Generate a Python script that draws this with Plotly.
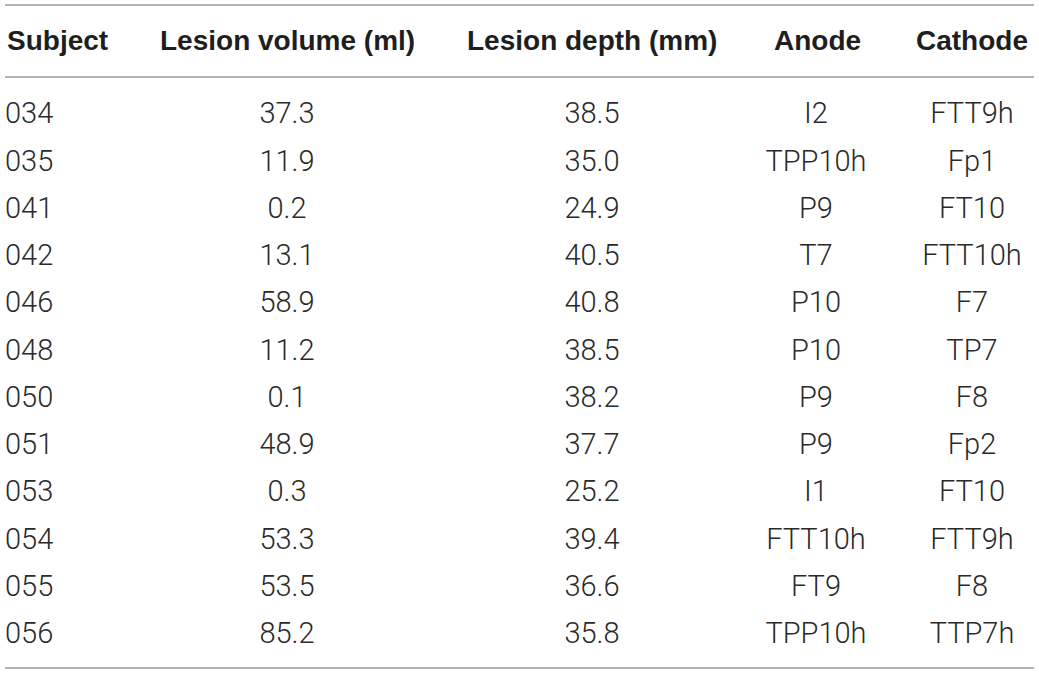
import plotly.graph_objects as go

# table data
headers = ['Subject', 'Lesion volume (ml)', 'Lesion depth (mm)', 'Anode', 'Cathode']
subjects = ['034', '035', '041', '042', '046', '048', '050', '051', '053', '054', '055', '056']
lesion_volume = [37.3, 11.9, 0.2, 13.1, 58.9, 11.2, 0.1, 48.9, 0.3, 53.3, 53.5, 85.2]
lesion_depth = [38.5, 35.0, 24.9, 40.5, 40.8, 38.5, 38.2, 37.7, 25.2, 39.4, 36.6, 35.8]
anodes = ['I2', 'TPP10h', 'P9', 'T7', 'P10', 'P10', 'P9', 'P9', 'I1', 'FTT10h', 'FT9', 'TPP10h']
cathodes = ['FTT9h', 'Fp1', 'FT10', 'FTT10h', 'F7', 'TP7', 'F8', 'Fp2', 'FT10', 'FTT9h', 'F8', 'TTP7h']

columns = [
    subjects,
    [f'{v:.1f}' for v in lesion_volume],
    [f'{v:.1f}' for v in lesion_depth],
    anodes,
    cathodes,
]

# layout (pixel-like x, row index y)
col_x = [5, 287, 592, 816, 972]
head_x = [5, 287, 592, 817, 972]
anchors = ['left', 'center', 'center', 'center', 'center']
rows = list(range(len(subjects)))
header_y = -1.587
line_color = '#9a9a9a'
body_font = dict(family='Roboto', size=29, color='#2a2a2a', weight=300)
head_font = dict(family='Liberation Sans', size=28, color='#1e1e1e', weight='bold')

fig = go.Figure()

for x, anchor, values in zip(col_x, anchors, columns):
    fig.add_trace(go.Scatter(
        x=[x] * len(values),
        y=rows,
        mode='text',
        text=values,
        textposition='middle right' if anchor == 'left' else 'middle center',
        textfont=body_font,
        hoverinfo='skip',
        showlegend=False
    ))

for x, anchor, label in zip(head_x, anchors, headers):
    fig.add_annotation(
        x=x, y=header_y, text=label, showarrow=False,
        xanchor=anchor, yanchor='middle', font=head_font
    )

for y in [-2.348, -0.825, 11.678]:
    fig.add_shape(type='line', x0=5, x1=1034, y0=y, y1=y,
                  line=dict(color=line_color, width=1.5))

fig.update_xaxes(range=[0, 1039], visible=False, fixedrange=True)
fig.update_yaxes(range=[11.804, -2.454], visible=False, fixedrange=True)
fig.update_layout(
    width=1039,
    height=674,
    margin=dict(l=0, r=0, t=0, b=0),
    plot_bgcolor='white',
    paper_bgcolor='white'
)

# drop the default page margin so the figure fills the window
fig.write_html('out.html', config={'displayModeBar': False},
               post_script="document.body.style.margin='0px';")
